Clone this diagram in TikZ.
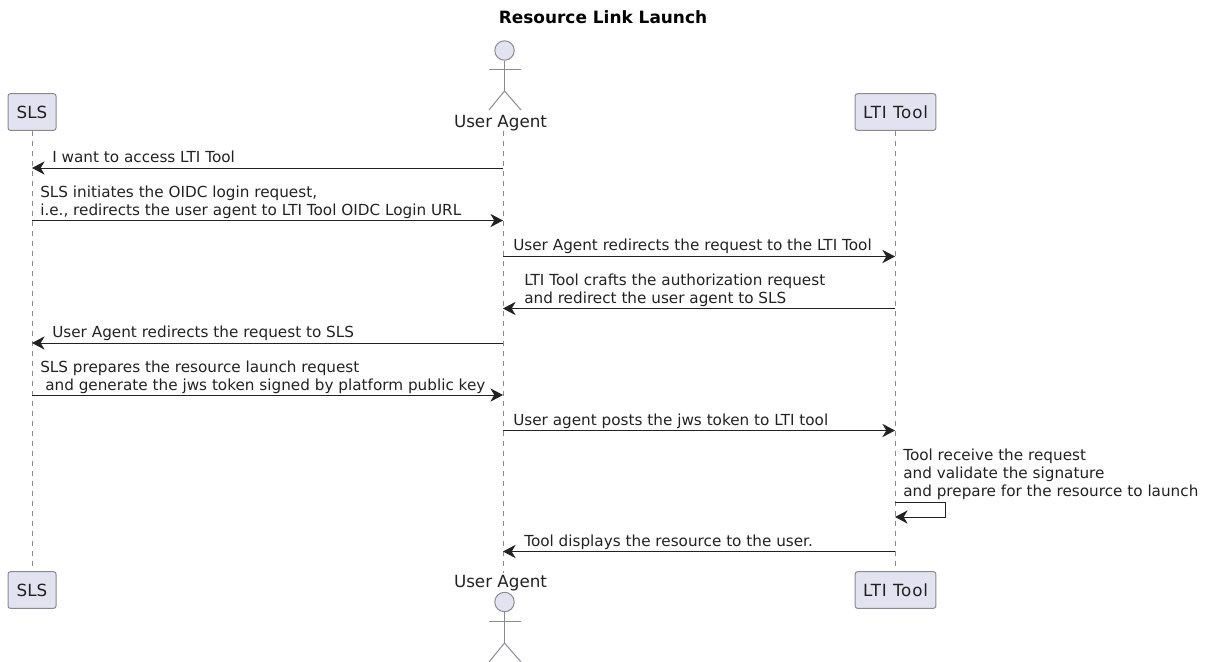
\documentclass[tikz,border=0pt]{standalone}
\usepackage{fontspec}
\setmainfont{DejaVu Sans}
\usetikzlibrary{arrows.meta}
\definecolor{partfill}{HTML}{E2E2F0}
\definecolor{partline}{HTML}{8A8A92}
\definecolor{ink}{HTML}{222222}
\tikzset{
 x=0.75pt,y=-0.75pt,
 part/.style={draw=partline,fill=partfill,line width=0.75pt,rounded corners=1.8pt,text=ink,inner sep=0pt,font=\fontsize{12.55}{14}\selectfont},
 actorhead/.style={circle,draw=partline,fill=partfill,line width=0.75pt,minimum size=14.6pt,inner sep=0pt},
 actorline/.style={draw=partline,line width=0.75pt},
 actorlabel/.style={text=ink,inner sep=0pt,font=\fontsize{12.55}{14}\selectfont},
 life/.style={draw=partline,line width=0.75pt,dash pattern=on 3.75pt off 3.75pt},
 msg/.style={draw=ink,line width=0.75pt,-{Stealth[length=9.5pt,width=10pt,inset=3pt]}},
 msgtext/.style={anchor=base west,text=ink,inner sep=0pt,font=\fontsize{11.43}{13.5}\selectfont,align=left},
}
\begin{document}
\begin{tikzpicture}
\useasboundingbox (0,0) rectangle (1205,661);
\node[anchor=base,font=\bfseries\fontsize{12.7}{14}\selectfont,inner sep=0pt] (title) at (603,23) {Resource Link Launch};

% top participants
\node[part,minimum width=36pt,minimum height=27.5pt] (slsT) at (32,112) {SLS};
\node[part,minimum width=60.5pt,minimum height=27.5pt] (ltiT) at (895.5,112) {\addfontfeature{LetterSpace=5}LTI Tool};
\node[actorhead] (uaHeadT) at (504.5,50.5) {};
\coordinate (uaHipT) at (504.5,91);
\coordinate (uaArmLT) at (489,69);
\coordinate (uaArmRT) at (521,69);
\coordinate (uaFootLT) at (489,110);
\coordinate (uaFootRT) at (521,110);
\draw[actorline] (uaHeadT.south) -- (uaHipT);
\draw[actorline] (uaArmLT) -- (uaArmRT);
\draw[actorline] (uaFootLT) -- (uaHipT) -- (uaFootRT);
\node[actorlabel,anchor=base] (uaT) at (500.5,127) {User Agent};

% bottom participants
\node[part,minimum width=36pt,minimum height=27.5pt] (slsB) at (32,590) {SLS};
\node[part,minimum width=60.5pt,minimum height=27.5pt] (ltiB) at (895.5,590) {\addfontfeature{LetterSpace=5}LTI Tool};
\node[actorlabel,anchor=base] (uaB) at (500.5,587) {User Agent};
\node[actorhead] (uaHeadB) at (504.5,602) {};
\coordinate (uaHipB) at (504.5,643);
\coordinate (uaArmLB) at (489,621);
\coordinate (uaArmRB) at (521,621);
\coordinate (uaFootLB) at (489,662);
\coordinate (uaFootRB) at (521,662);
\draw[actorline] (uaHeadB.south) -- (uaHipB);
\draw[actorline] (uaArmLB) -- (uaArmRB);
\draw[actorline] (uaFootLB) -- (uaHipB) -- (uaFootRB);

% lifelines
\coordinate (uaTop) at (503,131);
\coordinate (uaBot) at (503,573);
\draw[life] (slsT.south) -- (slsB.north);
\draw[life] (uaTop) -- (uaBot);
\draw[life] (ltiT.south) -- (ltiB.north);

% message ends
\foreach \n/\y in {a/168,b/220.5,c/256.5,d/308.5,e/343,f/395,g/430.5,h/502,i/517,j/551.5}{
  \coordinate (s\n) at (32,\y);
  \coordinate (u\n) at (503,\y);
  \coordinate (l\n) at (895,\y);
}
\coordinate (selfA) at (945,502);
\coordinate (selfB) at (945,517);

\draw[msg] (ua) -- (sa);
\node[msgtext] (ma) at (52,162.5) {I want to access LTI Tool};
\draw[msg] (sb) -- (ub);
\node[msgtext,anchor=base west] (mb1) at (40,197.5) {SLS initiates the OIDC login request,};
\node[msgtext] (mb2) at (40,215.5) {i.e., redirects the user agent to LTI Tool OIDC Login URL};
\draw[msg] (uc) -- (lc);
\node[msgtext] (mc) at (513,250.5) {User Agent redirects the request to the LTI Tool};
\draw[msg] (ld) -- (ud);
\node[msgtext] (md1) at (524,285.5) {LTI Tool crafts the authorization request};
\node[msgtext] (md2) at (524,303.5) {and redirect the user agent to SLS};
\draw[msg] (ue) -- (se);
\node[msgtext] (me) at (52,337.5) {User Agent redirects the request to SLS};
\draw[msg] (sf) -- (uf);
\node[msgtext] (mf1) at (40,372.5) {SLS prepares the resource launch request};
\node[msgtext] (mf2) at (45,390.5) {and generate the jws token signed by platform public key};
\draw[msg] (ug) -- (lg);
\node[msgtext] (mg) at (513,425.5) {User agent posts the jws token to LTI tool};
\draw[msg] (lh) -- (selfA) -- (selfB) -- (li);
\node[msgtext] (mh1) at (903,460.5) {Tool receive the request};
\node[msgtext] (mh2) at (903,478.5) {and validate the signature};
\node[msgtext] (mh3) at (903,496.5) {and prepare for the resource to launch};
\draw[msg] (lj) -- (uj);
\node[msgtext] (mj) at (524,546.5) {Tool displays the resource to the user.};
\end{tikzpicture}
\end{document}
